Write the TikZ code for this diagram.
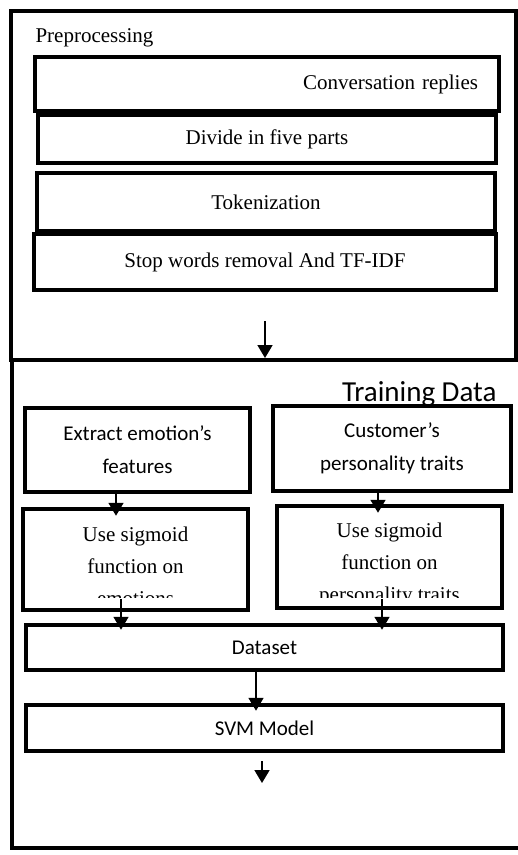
\documentclass[tikz,border=0pt]{standalone}
\usepackage{fontspec}
\setmainfont{Liberation Serif}
\newfontfamily\calibrifont{Carlito}
\usetikzlibrary{arrows.meta,positioning}

\begin{document}
\begin{tikzpicture}[
  x=1pt, y=-1pt,
  >={Triangle[width=15pt,length=13pt]},
  every node/.style={font=\fontsize{21}{32}\selectfont},
  frame/.style={draw, line width=4pt, inner sep=0pt},
  box/.style={draw, line width=4.5pt, inner sep=0pt, align=center},
  sans/.style={font=\calibrifont\fontsize{21}{33}\selectfont},
  arr/.style={->, line width=1.8pt}
]
  \useasboundingbox (0,0) rectangle (518,855);
  \clip (0,0) rectangle (518,855);

  \node[frame, minimum width=505pt, minimum height=349pt] (pre) at (263,185) {};
  \node[frame, minimum width=528pt, minimum height=488pt] (train) at (276,604) {};

  \node[anchor=base west] (pretitle) at (32,42) {Preprocessing};
  \node[box, minimum width=464pt, minimum height=54pt, text width=422pt,
        align=right] (conv) at (267,84) {Conversation replies};
  \node[box, minimum width=458pt, minimum height=48pt] (divide) at (267,139) {Divide in five parts};
  \node[box, minimum width=458pt, minimum height=58pt] (token) at (266,202) {Tokenization};
  \node[box, minimum width=462pt, minimum height=56pt] (stopw) at (265,262) {Stop words removal And TF-IDF};

  \node[sans, font=\calibrifont\fontsize{29}{35}\selectfont, anchor=base east] (trtitle) at (500,401) {Training Data};
  \node[box, sans, minimum width=225pt, minimum height=84pt] (emo) at (137.5,450) {Extract emotion’s\\features};
  \node[box, sans, minimum width=238pt, minimum height=85pt] (cust) at (392,448.5) {Customer’s\\personality traits};

  \begin{scope}
    \clip (25,510) rectangle (246,597);
    \node[align=center] (sigLtxt) at (135.5,566) {Use sigmoid\\function on\\emotions};
  \end{scope}
  \begin{scope}
    \clip (280,507) rectangle (500,597);
    \node[align=center] (sigRtxt) at (389.5,564) {Use sigmoid\\function on\\personality traits};
  \end{scope}
  \node[box, minimum width=225pt, minimum height=101pt] (sigL) at (135.5,559.5) {};
  \node[box, minimum width=225pt, minimum height=102pt] (sigR) at (389.5,557) {};

  \node[box, sans, minimum width=477pt, minimum height=45pt] (data) at (264.5,647.5) {Dataset};
  \node[box, sans, minimum width=477pt, minimum height=46pt] (svm) at (264.5,728) {SVM Model};

  \coordinate (preout) at (265,321);
  \coordinate (out) at (262,783);

  \draw[arr] (preout) -- (preout |- train.north);
  \draw[arr] ([xshift=-21.5pt]emo.south) -- ([xshift=-19.5pt,yshift=-9pt]sigL.north);
  \draw[arr] ([xshift=-14pt,yshift=3pt]cust.south) -- ([xshift=-11.5pt,yshift=-9pt]sigR.north);
  \draw[arr] ([xshift=-14.5pt,yshift=13pt]sigL.south) -- ([xshift=-143.5pt,yshift=-7pt]data.north);
  \draw[arr] ([xshift=-7.5pt,yshift=11pt]sigR.south) -- ([xshift=117.5pt,yshift=-7pt]data.north);
  \draw[arr] ([xshift=-8.5pt]data.south) -- ([xshift=-8.5pt,yshift=-8pt]svm.north);
  \draw[arr] ([yshift=-8pt]svm.south -| out) -- (out);
\end{tikzpicture}
\end{document}
